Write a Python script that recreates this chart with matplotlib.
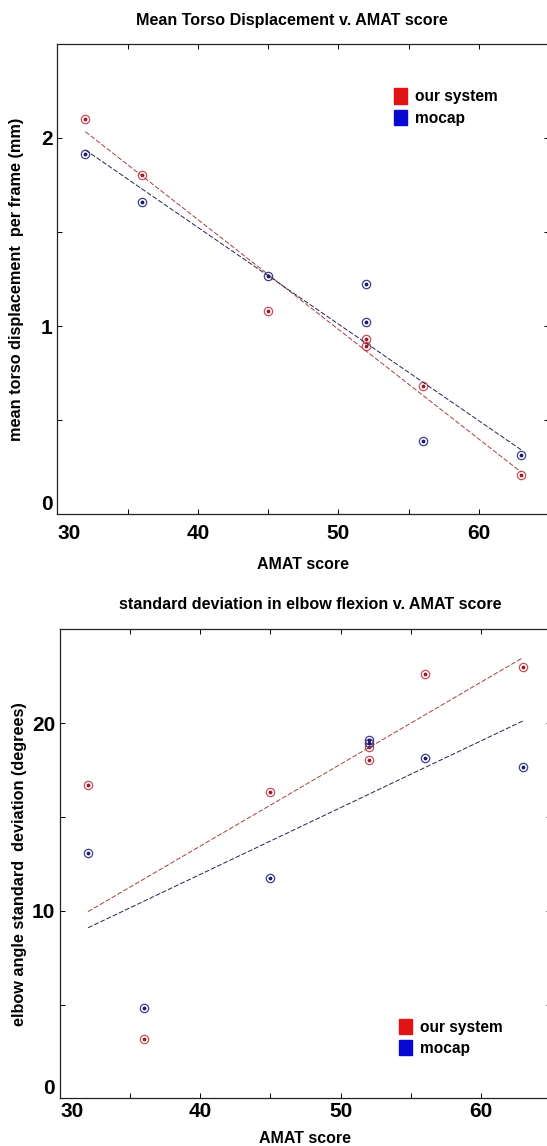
import numpy as np
import matplotlib
matplotlib.use('Agg')
import matplotlib.pyplot as plt
from matplotlib.patches import Patch

plt.rcParams['font.family'] = ['Liberation Sans', 'DejaVu Sans']

# AMAT scores of the subjects (two of them share a score of 52)
amat = [32, 36, 45, 52, 52, 56, 63]

# mean torso displacement per frame (mm)
torso_ours = [2.10, 1.80, 1.08, 0.93, 0.895, 0.68, 0.21]
torso_mocap = [1.915, 1.657, 1.268, 1.225, 1.023, 0.388, 0.317]

# standard deviation in elbow angle (degrees)
elbow_ours = [16.7, 3.16, 16.34, 18.75, 18.04, 22.6, 23.0]
elbow_mocap = [13.1, 4.8, 11.75, 19.11, 18.93, 18.15, 17.65]

series_labels = ['our system', 'mocap']
xticks = [30, 35, 40, 45, 50, 55, 60, 65]
xtick_labels = ['30', '', '40', '', '50', '', '60', '']
torso_yticks = [0, 0.5, 1, 1.5, 2, 2.5]
torso_ytick_labels = ['0', '', '1', '', '2', '']
elbow_yticks = [0, 5, 10, 15, 20, 25]
elbow_ytick_labels = ['0', '', '10', '', '20', '']

# marker edge, marker dot, fit line, legend square
red = dict(edge='#c8505a', dot='#9a1c28', line='#a04040', square='#e01414')
blue = dict(edge='#40408c', dot='#1c1c6e', line='#23234e', square='#0808d0')


def draw_series(ax, y, c):
    ax.plot(amat, y, 'o', mfc='none', mec=c['edge'], ms=6, mew=0.9)
    ax.plot(amat, y, '.', color=c['dot'], ms=3.5)
    # least squares line over the range of scores
    coef = np.polyfit(amat, y, 1)
    xs = np.array([min(amat), max(amat)])
    ax.plot(xs, np.polyval(coef, xs), color=c['line'], lw=0.7, dashes=(5, 2))


def style_axes(ax, yticks, ylabels, ylim):
    ax.set_xlim(30, 65)
    ax.set_ylim(*ylim)
    ax.set_xticks(xticks)
    ax.set_xticklabels(xtick_labels, fontsize=15, fontweight='bold')
    ax.set_yticks(yticks)
    ax.set_yticklabels(ylabels, fontsize=15, fontweight='bold')
    ax.tick_params(direction='in', length=3.5, width=0.7, top=True, right=True)
    ax.get_xticklabels()[0].set_ha('left')
    ax.get_yticklabels()[0].set_va('bottom')
    for s in ax.spines.values():
        s.set_linewidth(0.9)
        s.set_color('#222222')


def add_legend(ax, anchor):
    handles = [Patch(color=red['square']), Patch(color=blue['square'])]
    ax.legend(handles, series_labels, loc='upper left', bbox_to_anchor=anchor,
              frameon=False, prop={'weight': 'bold', 'size': 11.2},
              handlelength=0.85, handleheight=1.15, handletextpad=0.5,
              labelspacing=0.35, borderpad=0, borderaxespad=0)


fig = plt.figure(figsize=(5.47, 11.46), dpi=100)

# top panel: torso displacement
ax1 = fig.add_axes([0.1048, 0.5512, 0.899, 0.4108])
draw_series(ax1, torso_ours, red)
draw_series(ax1, torso_mocap, blue)
style_axes(ax1, torso_yticks, torso_ytick_labels, (0, 2.5))
ax1.tick_params(axis='x', pad=7)
ax1.set_title('Mean Torso Displacement v. AMAT score', fontsize=11.6,
              fontweight='bold', pad=13, x=0.477)
ax1.set_xlabel('AMAT score', fontsize=11.5, fontweight='bold', labelpad=10)
ax1.set_ylabel('mean torso displacement  per frame (mm)', fontsize=11.7,
               fontweight='bold')
ax1.yaxis.label.set_va('center')
ax1.yaxis.set_label_coords(-0.084, 0.5)
add_legend(ax1, (0.684, 0.905))

# bottom panel: elbow flexion
ax2 = fig.add_axes([0.1097, 0.0416, 0.8976, 0.4092])
draw_series(ax2, elbow_ours, red)
draw_series(ax2, elbow_mocap, blue)
style_axes(ax2, elbow_yticks, elbow_ytick_labels, (0, 25))
ax2.tick_params(axis='x', pad=3)
ax2.set_title('standard deviation in elbow flexion v. AMAT score', fontsize=11.6,
              fontweight='bold', pad=15, x=0.509)
ax2.set_xlabel('AMAT score', fontsize=11.5, fontweight='bold', labelpad=7)
ax2.set_ylabel('elbow angle standard  deviation (degrees)', fontsize=11.7,
               fontweight='bold')
ax2.yaxis.label.set_va('center')
ax2.yaxis.set_label_coords(-0.0815, 0.5)
add_legend(ax2, (0.69, 0.17))

fig.savefig('out.png', dpi=100, facecolor='white')
